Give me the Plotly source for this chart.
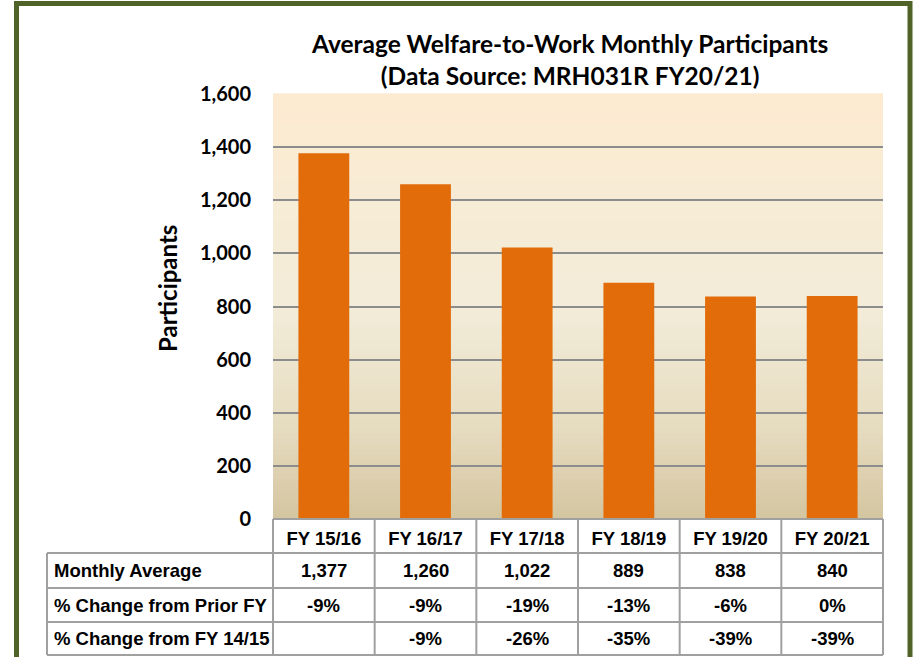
import plotly.graph_objects as go

# data
years = ["FY 15/16", "FY 16/17", "FY 17/18", "FY 18/19", "FY 19/20", "FY 20/21"]
monthly_avg = [1377, 1260, 1022, 889, 838, 840]
pct_prior = ["-9%", "-9%", "-19%", "-13%", "-6%", "0%"]
pct_base = ["", "-9%", "-26%", "-35%", "-39%", "-39%"]
row_labels = ["Monthly Average", "% Change from Prior FY", "% Change from FY 14/15"]
y_ticks = [0, 200, 400, 600, 800, 1000, 1200, 1400, 1600]

W, H = 913, 657
L, R, T, B = 273, 30, 94, 138
PW, PH = W - L - R, H - T - B

TICK_FONT = "Lato, Open Sans, sans-serif"
TABLE_FONT = "Liberation Sans, Arial, sans-serif"
GRID = "#8c8c8c"


def px_x(p):
    return (p - L) / PW


def px_y(p):
    return (H - B - p) / PH


def blend(c1, c2, t):
    a = [int(c1[i:i + 2], 16) for i in (1, 3, 5)]
    b = [int(c2[i:i + 2], 16) for i in (1, 3, 5)]
    return "rgb(%d,%d,%d)" % tuple(round(a[k] + (b[k] - a[k]) * t) for k in range(3))


def grad_color(t):
    # t = 0 bottom, 1 top
    stops = [(0.0, "#d5c5a1"), (0.22, "#e6dcc0"), (0.5, "#f2ecd9"), (1.0, "#fdebd1")]
    for (t0, c0), (t1, c1) in zip(stops, stops[1:]):
        if t <= t1:
            return blend(c0, c1, (t - t0) / (t1 - t0))
    return stops[-1][1]


fig = go.Figure(go.Bar(
    x=years, y=monthly_avg, marker_color="#e36c0a", marker_line_width=0,
    width=0.5, hoverinfo="x+y",
))

shapes = []
n_strips = 85
for i in range(n_strips):
    shapes.append(dict(
        type="rect", xref="paper", yref="paper", layer="below",
        x0=0, x1=1, y0=i / n_strips, y1=(i + 1) / n_strips + 0.002,
        fillcolor=grad_color((i + 0.5) / n_strips), line_width=0,
    ))

# table grid
row_edges = [519, 553, 588, 622, 655]
col_x = [px_x(47)] + [i / len(years) for i in range(len(years) + 1)]
line = dict(color="#a0a0a0", width=2)
for k, yy in enumerate(row_edges):
    x_start = 0 if k == 0 else col_x[0]
    shapes.append(dict(type="line", xref="paper", yref="paper",
                       x0=x_start, x1=1, y0=px_y(yy), y1=px_y(yy), line=line))
for j, xx in enumerate(col_x):
    top = row_edges[1] if j == 0 else row_edges[0]
    shapes.append(dict(type="line", xref="paper", yref="paper",
                       x0=xx, x1=xx, y0=px_y(top), y1=px_y(row_edges[-1]), line=line))

# outer frame
shapes.append(dict(type="rect", xref="paper", yref="paper",
                   x0=px_x(16.5), x1=px_x(910), y0=px_y(3.5), y1=px_y(665),
                   line=dict(color="#4f6228", width=5)))

annotations = [
    dict(text="<b>Average Welfare-to-Work Monthly Participants<br>(Data Source: MRH031R FY20/21)</b>",
         xref="paper", yref="paper", x=px_x(569), y=px_y(59), showarrow=False,
         xanchor="center", yanchor="middle",
         font=dict(family=TICK_FONT, size=24.5, color="#000"), align="center"),
    dict(text="<b>Participants</b>", xref="paper", yref="paper", x=px_x(167), y=px_y(289),
         xanchor="center", yanchor="middle",
         textangle=-90, showarrow=False, font=dict(family=TICK_FONT, size=24, color="#000")),
]

rows = [[f"{v:,}" for v in monthly_avg], pct_prior, pct_base]
for r, (label, vals) in enumerate(zip(row_labels, rows)):
    yc = px_y((row_edges[r + 1] + row_edges[r + 2]) / 2)
    annotations.append(dict(text=f"<b>{label}</b>", xref="paper", yref="paper",
                            x=px_x(52), y=yc, xanchor="left", yanchor="middle", showarrow=False,
                            font=dict(family=TABLE_FONT, size=18.5, color="#000")))
    for yr, v in zip(years, vals):
        annotations.append(dict(text=f"<b>{v}</b>", xref="x", yref="paper",
                                x=yr, y=yc, xanchor="center", yanchor="middle", showarrow=False,
                                font=dict(family=TABLE_FONT, size=18.5, color="#000")))

fig.update_layout(
    width=W, height=H,
    margin=dict(l=L, r=R, t=T, b=B),
    paper_bgcolor="white",
    plot_bgcolor="rgba(0,0,0,0)",
    showlegend=False,
    bargap=0.5,
    shapes=shapes,
    annotations=annotations,
    xaxis=dict(
        tickfont=dict(family=TABLE_FONT, size=18.5, color="#000"),
        tickprefix="<b>", ticksuffix="</b>",
        showgrid=False, showline=False, ticks="", ticklabelstandoff=6,
        range=[-0.5, len(years) - 0.5],
    ),
    yaxis=dict(
        range=[0, 1600], tickvals=y_ticks,
        ticktext=[f"<b>{v:,}</b>" for v in y_ticks],
        tickfont=dict(family=TICK_FONT, size=20, color="#000"),
        showgrid=True, gridcolor=GRID, gridwidth=1.5,
        zeroline=False, showline=False, ticks="", ticklabelstandoff=21,
    ),
)

# the page's default body margin would shift the chart by 8px
fig.write_html("out.html", config={"displayModeBar": False},
               post_script="document.body.style.margin='0';")
